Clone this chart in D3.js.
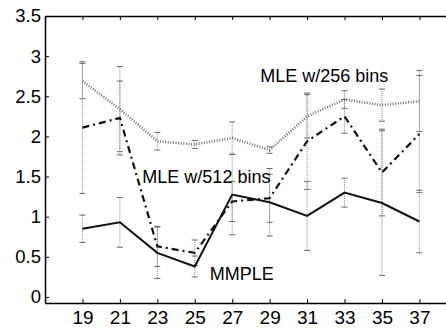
<!DOCTYPE html>
<html>
<head>
<meta charset="utf-8">
<script src="https://cdn.jsdelivr.net/npm/d3@7"></script>
<style>
  body { margin: 0; background: #fff; }
  svg { display: block; font-family: "Liberation Sans", Arial, sans-serif; }
</style>
</head>
<body>
<svg id="chart" width="446" height="328"></svg>
<script>
// window size (x axis)
const sizes = [19, 21, 23, 25, 27, 29, 31, 33, 35, 37];
const xTickLabels = ['19', '21', '23', '25', '27', '29', '31', '33', '35', '37'];
const yTickValues = [0, 0.5, 1, 1.5, 2, 2.5, 3, 3.5];
const yTickLabels = ['0', '0.5', '1', '1.5', '2', '2.5', '3', '3.5'];

// MLE w/256 bins
const mle256 = [2.69, 2.34, 1.94, 1.90, 1.98, 1.83, 2.25, 2.46, 2.39, 2.44];
const mle256Err = [0.22, 0.53, 0.11, 0.05, 0.20, 0.04, 0.27, 0.11, 0.20, 0.38];
// MLE w/512 bins
const mle512 = [2.11, 2.23, 0.63, 0.55, 1.19, 1.23, 1.94, 2.25, 1.55, 2.03];
const mle512Err = [0.82, 0.46, 0.25, 0.16, 0.25, 0.30, 0.60, 0.21, 0.54, 0.73];
// MMPLE
const mmple = [0.85, 0.93, 0.55, 0.38, 1.275, 1.18, 1.01, 1.30, 1.17, 0.94];
const mmpleErr = [0.17, 0.31, 0.32, 0.13, 0.50, 0.42, 0.43, 0.18, 0.90, 0.39];

const seriesNames = ['MLE w/256 bins', 'MLE w/512 bins', 'MMPLE'];

const svg = d3.select('#chart');
const mLeft = 45, mTop = 16, mBottom = 303;

const x = d3.scaleLinear().domain([17, 39]).range([mLeft, mLeft + 22 * 18.72]);
const y = d3.scaleLinear().domain([-0.075, 3.5]).range([mBottom, mTop]);

const series = [
  { name: seriesNames[0], vals: mle256, err: mle256Err, stroke: '#707070', width: 2.6, dash: '1,1.6' },
  { name: seriesNames[1], vals: mle512, err: mle512Err, stroke: '#111', width: 2.2, dash: '7,4,2,4' },
  { name: seriesNames[2], vals: mmple, err: mmpleErr, stroke: '#111', width: 2, dash: null }
];

// error bars
const eb = svg.append('g');
series.forEach(function(s) {
  const g = eb.selectAll(null).data(sizes).enter().append('g');
  g.append('line')
    .attr('x1', function(d) { return x(d); })
    .attr('x2', function(d) { return x(d); })
    .attr('y1', function(d, i) { return y(s.vals[i] + s.err[i]); })
    .attr('y2', function(d, i) { return y(s.vals[i] - s.err[i]); })
    .attr('stroke', '#8a8a8a')
    .attr('stroke-width', 1)
    .attr('stroke-dasharray', '1,1');
  [1, -1].forEach(function(sign) {
    g.append('line')
      .attr('x1', function(d) { return x(d) - 3; })
      .attr('x2', function(d) { return x(d) + 3; })
      .attr('y1', function(d, i) { return y(s.vals[i] + sign * s.err[i]); })
      .attr('y2', function(d, i) { return y(s.vals[i] + sign * s.err[i]); })
      .attr('stroke', '#666')
      .attr('stroke-width', 1);
  });
});

// lines
const line = d3.line()
  .x(function(d) { return x(d[0]); })
  .y(function(d) { return y(d[1]); });

series.forEach(function(s) {
  svg.append('path')
    .datum(sizes.map(function(d, i) { return [d, s.vals[i]]; }))
    .attr('fill', 'none')
    .attr('stroke', s.stroke)
    .attr('stroke-width', s.width)
    .attr('stroke-dasharray', s.dash)
    .attr('d', line);
});

// axes
const axisFont = function(g, size) {
  g.selectAll('text').attr('font-size', size).attr('fill', '#000')
    .attr('font-family', '"Liberation Sans", Arial, sans-serif');
  g.selectAll('line, path').attr('stroke', '#000');
  g.select('.domain').attr('stroke-width', 1.5);
};

svg.append('g')
  .attr('transform', 'translate(' + mLeft + ',0)')
  .call(d3.axisLeft(y).tickValues(yTickValues)
    .tickFormat(function(d, i) { return yTickLabels[i]; })
    .tickSize(-4).tickSizeOuter(0).tickPadding(4))
  .call(function(g) { axisFont(g, 18.5); });

svg.append('g')
  .attr('transform', 'translate(0,' + mBottom + ')')
  .call(d3.axisBottom(x).tickValues(sizes)
    .tickFormat(function(d, i) { return xTickLabels[i]; })
    .tickSize(-4).tickSizeOuter(0).tickPadding(8))
  .call(function(g) { axisFont(g, 19); });

svg.append('g')
  .attr('transform', 'translate(0,' + mTop + ')')
  .call(d3.axisTop(x).tickValues(sizes).tickFormat('')
    .tickSize(-4).tickSizeOuter(0))
  .call(function(g) { axisFont(g, 16); });

// series labels
const labels = [
  { text: seriesNames[0], x: 28.5, y: 2.675 },
  { text: seriesNames[1], x: 22.2, y: 1.42 },
  { text: seriesNames[2], x: 25.8, y: 0.21 }
];
svg.selectAll('text.lbl').data(labels).enter().append('text')
  .attr('class', 'lbl')
  .attr('x', function(d) { return x(d.x); })
  .attr('y', function(d) { return y(d.y); })
  .attr('font-size', 18)
  .attr('fill', '#000')
  .text(function(d) { return d.text; });
</script>
</body>
</html>
